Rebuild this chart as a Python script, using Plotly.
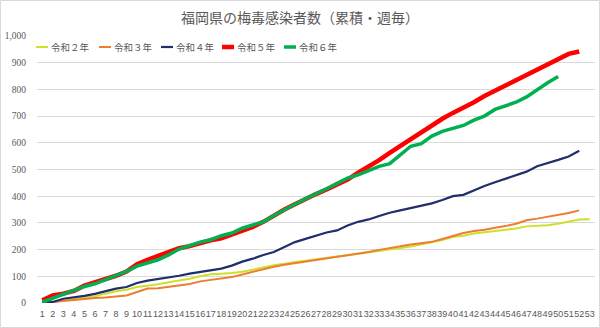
import plotly.graph_objects as go

weeks = list(range(1, 54))
tick_labels = [str(w) for w in weeks]
y_ticks = [0, 100, 200, 300, 400, 500, 600, 700, 800, 900, 1000]

series_names = ["令和２年", "令和３年", "令和４年", "令和５年", "令和６年"]

r2 = [2, 4, 9, 15, 20, 25, 35, 44, 50, 60,
      65, 70, 78, 84, 91, 100, 108, 110, 112, 117,
      125, 134, 141, 147, 154, 158, 164, 170, 174, 179,
      184, 190, 195, 201, 206, 212, 220, 226, 236, 247,
      252, 260, 265, 271, 275, 279, 287, 289, 291, 297,
      305, 313, 314]
r3 = [0, 4, 9, 12, 15, 19, 21, 25, 28, 41,
      54, 55, 61, 65, 71, 81, 86, 90, 97, 107,
      117, 127, 136, 143, 149, 154, 160, 165, 171, 178,
      185, 191, 199, 206, 213, 219, 224, 229, 240, 252,
      262, 270, 274, 282, 288, 297, 310, 316, 323, 329,
      337, 347]
r4 = [2, 4, 16, 21, 27, 34, 44, 54, 60, 75,
      84, 90, 95, 102, 110, 116, 121, 129, 140, 155,
      166, 180, 191, 210, 228, 240, 252, 264, 272, 290,
      304, 313, 326, 338, 347, 355, 364, 373, 386, 400,
      405, 422, 438, 452, 465, 478, 492, 512, 523, 536,
      549, 570]
r5 = [10, 28, 35, 45, 65, 77, 88, 102, 118, 145,
      162, 175, 192, 205, 213, 225, 235, 242, 255, 268,
      285, 304, 328, 350, 370, 390, 408, 425, 443, 462,
      488, 510, 535, 562, 588, 612, 640, 662, 690, 712,
      730, 752, 775, 795, 812, 833, 852, 875, 893, 915,
      933, 942]
r6 = [3, 18, 32, 45, 62, 72, 88, 102, 118, 138,
      150, 162, 180, 202, 215, 228, 237, 252, 262, 280,
      292, 304, 328, 350, 370, 390, 408, 428, 448, 468,
      480, 495, 512, 522, 555, 587, 597, 625, 643, 655,
      665, 685, 700, 725, 738, 752, 772, 800, 825, 848]

series_values = [r2, r3, r4, r5, r6]
colors = ["#cfe02a", "#ed7d31", "#1f2f6b", "#ff0000", "#00b050"]
widths = [2, 2, 2.2, 4.5, 3.5]

L, R, T, B = 37, 5, 36, 25
W, H = 600, 328
pw = W - L - R
ph = H - T - B

fig = go.Figure()
for name, vals, c, w in zip(series_names, series_values, colors, widths):
    fig.add_trace(go.Scatter(
        x=weeks[:len(vals)], y=vals, mode="lines", name=name,
        line=dict(color=c, width=w), showlegend=False,
        hoverinfo="x+y+name"))

# custom legend (line sample + label), placed like the reference
shapes = []
annotations = []
leg_start = [36, 99, 161, 222, 284]
leg_y = 1 - (47 - T) / ph
for i, (name, c, w) in enumerate(zip(series_names, colors, widths)):
    x0 = (leg_start[i] - L) / pw
    x1 = (leg_start[i] + 12 - L) / pw
    shapes.append(dict(type="line", xref="paper", yref="paper",
                       x0=x0, x1=x1, y0=leg_y, y1=leg_y,
                       line=dict(color=c, width=w)))
    annotations.append(dict(text=name, xref="paper", yref="paper",
                            x=(leg_start[i] + 13 - L) / pw, y=leg_y,
                            xanchor="left", yanchor="middle", showarrow=False,
                            font=dict(size=9.5, color="#595959",
                                      family="Noto Sans CJK JP")))

# chart border
shapes.append(dict(type="rect", xref="paper", yref="paper",
                   x0=(0.5 - L) / pw, x1=(W - 0.5 - L) / pw,
                   y0=-(B - 0.5) / ph, y1=1 + (T - 0.5) / ph,
                   line=dict(color="#d9d9d9", width=1), layer="below"))

fig.update_layout(
    width=W, height=H,
    margin=dict(l=L, r=R, t=T, b=B),
    paper_bgcolor="white", plot_bgcolor="white",
    title=dict(text="福岡県の梅毒感染者数（累積・週毎）",
               x=0.5, xref="paper", xanchor="center",
               y=1 - 18 / H, yref="container", yanchor="middle",
               font=dict(size=14, color="#595959", family="Noto Sans CJK JP")),
    shapes=shapes,
    annotations=annotations,
    font=dict(family="Noto Sans CJK JP", color="#595959"),
)
fig.update_layout(title_x=(300 - L) / pw)
fig.update_xaxes(range=[0.5, 53.5], tickmode="array", tickvals=weeks,
                 ticktext=tick_labels, showgrid=False, zeroline=False,
                 showline=False, ticks="", tickangle=0,
                 tickfont=dict(size=9, color="#595959",
                               family="Liberation Sans Narrow, Liberation Sans"),
                 ticklabelstandoff=4, fixedrange=True)
fig.update_yaxes(range=[0, 1000], tickmode="array", tickvals=y_ticks,
                 tickformat=",d", showgrid=True, gridcolor="#d9d9d9",
                 gridwidth=1, zeroline=False, showline=False, ticks="",
                 tickfont=dict(size=9.5, color="#595959", family="Liberation Serif"),
                 ticklabelstandoff=10, fixedrange=True)

fig.write_html("out.html")
